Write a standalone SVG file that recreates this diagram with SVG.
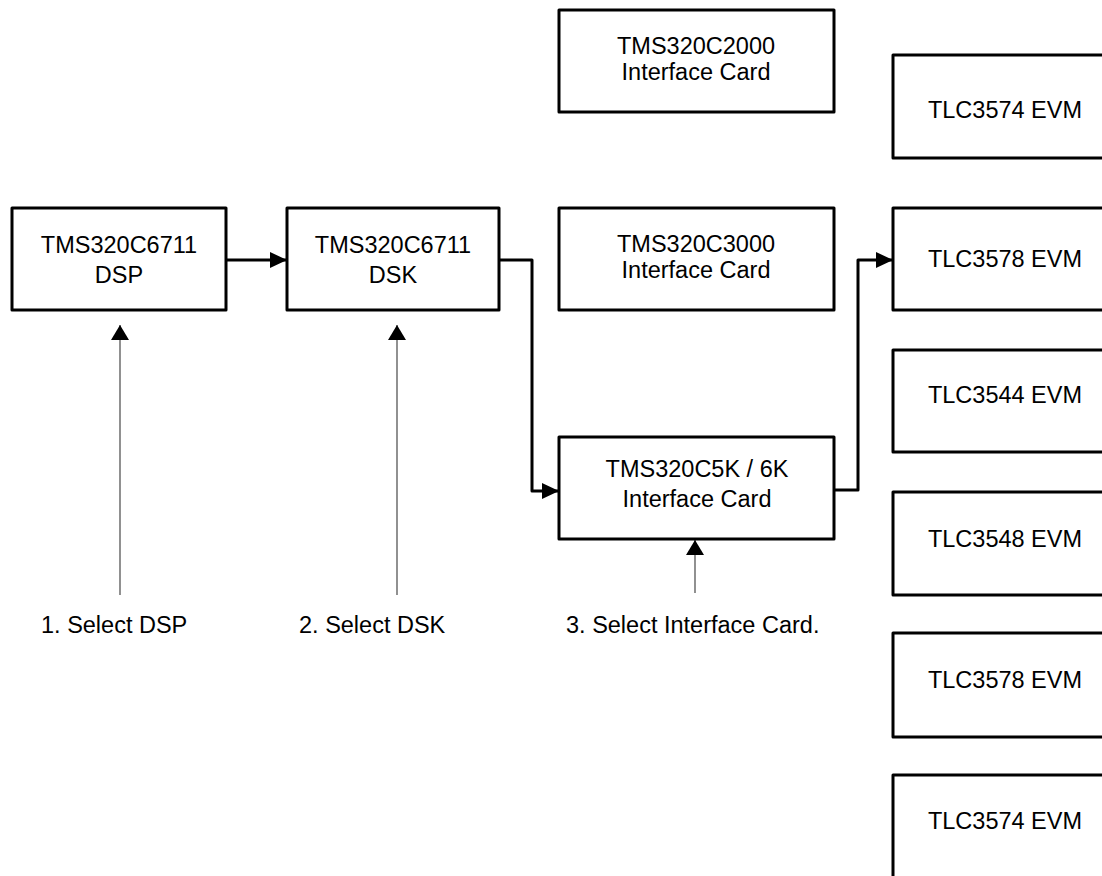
<svg xmlns="http://www.w3.org/2000/svg" width="1102" height="876" viewBox="0 0 1102 876">
  <style>
    .box { fill: #ffffff; stroke: #000000; stroke-width: 3; stroke-linejoin: round; }
    .t { font-family: "Liberation Sans", Arial, sans-serif; font-size: 23.5px; fill: #000000; text-anchor: middle; }
    .lbl { font-family: "Liberation Sans", Arial, sans-serif; font-size: 23.5px; fill: #000000; }
    .thick { fill: none; stroke: #000000; stroke-width: 3; stroke-linejoin: round; }
    .thin { fill: none; stroke: #555555; stroke-width: 1.3; }
  </style>
  <defs>
    <marker id="ah" markerUnits="userSpaceOnUse" markerWidth="18" markerHeight="16" refX="17" refY="8" orient="auto">
      <path d="M0,0 L17,8 L0,16 z" fill="#000000"/>
    </marker>
    <marker id="ahThin" markerUnits="userSpaceOnUse" markerWidth="16" markerHeight="18" refX="15" refY="9" orient="auto">
      <path d="M0,0 L15,9 L0,18 z" fill="#000000"/>
    </marker>
  </defs>
  <rect width="1102" height="876" fill="#ffffff"/>

  <g id="connectors">
    <path class="thick" d="M226,260 H287" marker-end="url(#ah)"/>
    <path class="thick" d="M499,260 H532 V491 H559" marker-end="url(#ah)"/>
    <path class="thick" d="M834,490 H858 V260 H893" marker-end="url(#ah)"/>
    <path class="thin" d="M120,595 V325" marker-end="url(#ahThin)"/>
    <path class="thin" d="M397,595 V325" marker-end="url(#ahThin)"/>
    <path class="thin" d="M695,593 V540" marker-end="url(#ahThin)"/>
  </g>

  <g id="dsp">
    <rect class="box" x="12" y="208" width="214" height="102"/>
    <text class="t" x="119" y="253">TMS320C6711</text>
    <text class="t" x="119" y="283">DSP</text>
  </g>
  <g id="dsk">
    <rect class="box" x="287" y="208" width="212" height="102"/>
    <text class="t" x="393" y="253">TMS320C6711</text>
    <text class="t" x="393" y="283">DSK</text>
  </g>
  <g id="c2000">
    <rect class="box" x="559" y="10" width="275" height="102"/>
    <text class="t" x="696" y="54">TMS320C2000</text>
    <text class="t" x="696" y="80">Interface Card</text>
  </g>
  <g id="c3000">
    <rect class="box" x="559" y="208" width="275" height="102"/>
    <text class="t" x="696" y="252">TMS320C3000</text>
    <text class="t" x="696" y="278">Interface Card</text>
  </g>
  <g id="c5k6k">
    <rect class="box" x="559" y="437" width="275" height="102"/>
    <text class="t" x="697" y="477">TMS320C5K / 6K</text>
    <text class="t" x="697" y="507">Interface Card</text>
  </g>

  <g id="tlc3574a">
    <rect class="box" x="893" y="55" width="240" height="103"/>
    <text class="t" x="1005" y="118">TLC3574 EVM</text>
  </g>
  <g id="tlc3578a">
    <rect class="box" x="893" y="208" width="240" height="102"/>
    <text class="t" x="1005" y="267">TLC3578 EVM</text>
  </g>
  <g id="tlc3544">
    <rect class="box" x="893" y="350" width="240" height="102"/>
    <text class="t" x="1005" y="403">TLC3544 EVM</text>
  </g>
  <g id="tlc3548">
    <rect class="box" x="893" y="492" width="240" height="103"/>
    <text class="t" x="1005" y="547">TLC3548 EVM</text>
  </g>
  <g id="tlc3578b">
    <rect class="box" x="893" y="633" width="240" height="104"/>
    <text class="t" x="1005" y="688">TLC3578 EVM</text>
  </g>
  <g id="tlc3574b">
    <rect class="box" x="893" y="775" width="240" height="104"/>
    <text class="t" x="1005" y="829">TLC3574 EVM</text>
  </g>

  <g id="labels">
    <text class="lbl" x="41" y="633">1. Select DSP</text>
    <text class="lbl" x="299" y="633">2. Select DSK</text>
    <text class="lbl" x="566" y="633">3. Select Interface Card.</text>
  </g>
</svg>
